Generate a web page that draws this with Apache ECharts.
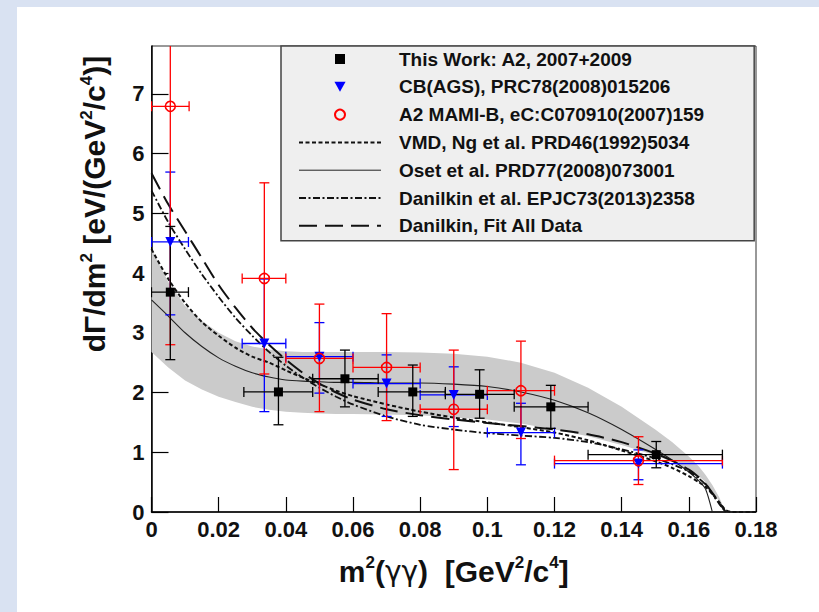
<!DOCTYPE html>
<html>
<head>
<meta charset="utf-8">
<script src="https://cdn.jsdelivr.net/npm/echarts@6/dist/echarts.min.js"></script>
<style>
  html, body { margin: 0; padding: 0; background: #d9e2f2; }
  #panel { position: absolute; left: 17px; top: 7px; width: 802px; height: 605px; background: #ffffff; }
  #chartDiv { position: absolute; left: 0; top: 0; width: 819px; height: 612px; }
</style>
</head>
<body>
<div id="panel"></div>
<div id="chartDiv"></div>
<script>
// ---- data ----
var thisX   = [0.0056, 0.0378, 0.0576, 0.0778, 0.0977, 0.1189, 0.1503];
var thisY   = [3.68, 2.01, 2.23, 2.01, 1.97, 1.76, 0.96];
var thisXLo = [0, 0.0275, 0.048, 0.0675, 0.0875, 0.108, 0.13];
var thisXHi = [0.011, 0.048, 0.0675, 0.0875, 0.108, 0.13, 0.17];
var thisYLo = [2.55, 1.46, 1.76, 1.6, 1.57, 1.4, 0.74];
var thisYHi = [4.78, 2.59, 2.71, 2.46, 2.38, 2.12, 1.18];

var cbX   = [0.0056, 0.0336, 0.05, 0.07, 0.09, 0.11, 0.145];
var cbY   = [4.52, 2.82, 2.6, 2.15, 1.96, 1.33, 0.81];
var cbXLo = [0, 0.027, 0.04, 0.06, 0.08, 0.1, 0.12];
var cbXHi = [0.011, 0.04, 0.06, 0.08, 0.1, 0.12, 0.17];
var cbYLo = [3.3, 1.68, 1.99, 1.6, 1.43, 0.79, 0.54];
var cbYHi = [5.69, 3.9, 3.17, 2.63, 2.43, 1.82, 1.04];

var mamiX   = [0.0056, 0.0336, 0.05, 0.07, 0.09, 0.11, 0.145];
var mamiY   = [6.79, 3.91, 2.57, 2.42, 1.72, 2.03, 0.86];
var mamiXLo = [0, 0.027, 0.04, 0.06, 0.08, 0.1, 0.12];
var mamiXHi = [0.0112, 0.04, 0.06, 0.08, 0.1, 0.12, 0.17];
var mamiYLo = [2.8, 2.31, 1.68, 1.53, 0.71, 1.23, 0.46];
var mamiYHi = [8.6, 5.51, 3.48, 3.32, 2.71, 2.86, 1.26];

var curveX  = [0, 0.005, 0.01, 0.015, 0.02, 0.025, 0.03, 0.035, 0.04, 0.045, 0.05, 0.055, 0.06, 0.07, 0.08, 0.09, 0.1, 0.11, 0.12, 0.13, 0.14, 0.15, 0.155, 0.16, 0.163, 0.165, 0.167, 0.169, 0.171, 0.173, 0.18];
var yVMD    = [4.4, 3.9, 3.5, 3.18, 2.95, 2.75, 2.6, 2.5, 2.37, 2.25, 2.14, 2.03, 1.94, 1.8, 1.68, 1.58, 1.5, 1.42, 1.33, 1.2, 1.03, 0.85, 0.74, 0.6, 0.5, 0.42, 0.3, 0.17, 0.03, 0, 0];
var yOset   = [3.55, 3.28, 3.0, 2.77, 2.58, 2.44, 2.33, 2.26, 2.21, 2.19, 2.18, 2.17, 2.17, 2.16, 2.16, 2.14, 2.1, 2.01, 1.87, 1.66, 1.38, 1.05, 0.87, 0.67, 0.52, 0.38, 0, null, null, null, null];
var yDan    = [5.38, 4.85, 4.4, 3.98, 3.6, 3.25, 2.95, 2.68, 2.45, 2.25, 2.08, 1.93, 1.8, 1.6, 1.46, 1.38, 1.32, 1.28, 1.24, 1.17, 1.05, 0.9, 0.8, 0.68, 0.56, 0.46, 0.3, 0.14, 0, null, null];
var yFit    = [5.67, 5.15, 4.7, 4.25, 3.8, 3.42, 3.08, 2.8, 2.55, 2.33, 2.15, 2.0, 1.88, 1.72, 1.62, 1.55, 1.49, 1.44, 1.38, 1.3, 1.17, 0.98, 0.86, 0.71, 0.58, 0.47, 0.32, 0.16, 0, null, null];
var bandHi  = [4.4, 3.85, 3.45, 3.2, 3.0, 2.86, 2.77, 2.72, 2.69, 2.68, 2.68, 2.68, 2.68, 2.68, 2.67, 2.65, 2.6, 2.5, 2.33, 2.08, 1.76, 1.38, 1.17, 0.93, 0.76, 0.62, 0.45, 0.25, 0, null, null];
var bandLo  = [2.68, 2.42, 2.2, 2.05, 1.93, 1.84, 1.76, 1.71, 1.68, 1.66, 1.65, 1.64, 1.64, 1.63, 1.62, 1.58, 1.55, 1.48, 1.38, 1.27, 1.12, 0.95, 0.84, 0.7, 0.6, 0.5, 0.35, 0.18, 0, null, null];

var names = [
    'This Work: A2, 2007+2009',
    'CB(AGS), PRC78(2008)015206',
    'A2 MAMI-B, eC:C070910(2007)159',
    'VMD, Ng et al. PRD46(1992)5034',
    'Oset et al. PRD77(2008)073001',
    'Danilkin et al. EPJC73(2013)2358',
    'Danilkin, Fit All Data'
];

var FONT = 'Liberation Sans, Arial, sans-serif';

var myChart = echarts.init(document.getElementById('chartDiv'), null, {renderer: 'svg'});

var pairs = function(xs, ys){
    var out = [];
    for (var i = 0; i < xs.length; i++) {
        if (ys[i] != null) out.push([xs[i], ys[i]]);
    }
    return out;
};

var errRows = function(x, y, xlo, xhi, ylo, yhi){
    return x.map(function(v, i){ return [v, y[i], xlo[i], xhi[i], ylo[i], yhi[i]]; });
};

var errRender = function(color){
    return function(params, api){
        var x = api.value(0), y = api.value(1);
        var p = api.coord([x, y]);
        var xl = api.coord([api.value(2), y])[0];
        var xh = api.coord([api.value(3), y])[0];
        var yl = api.coord([x, api.value(4)])[1];
        var yh = api.coord([x, api.value(5)])[1];
        var st = {stroke: color, lineWidth: 1.3};
        var c = 5;
        return {
            type: 'group',
            children: [
                {type: 'line', shape: {x1: xl, y1: p[1], x2: xh, y2: p[1]}, style: st},
                {type: 'line', shape: {x1: p[0], y1: yl, x2: p[0], y2: yh}, style: st},
                {type: 'line', shape: {x1: xl, y1: p[1] - c, x2: xl, y2: p[1] + c}, style: st},
                {type: 'line', shape: {x1: xh, y1: p[1] - c, x2: xh, y2: p[1] + c}, style: st},
                {type: 'line', shape: {x1: p[0] - c, y1: yl, x2: p[0] + c, y2: yl}, style: st},
                {type: 'line', shape: {x1: p[0] - c, y1: yh, x2: p[0] + c, y2: yh}, style: st}
            ]
        };
    };
};

var bandRender = function(params, api){
    var pts = [];
    for (var i = 0; i < curveX.length; i++) {
        if (bandHi[i] != null) pts.push(api.coord([curveX[i], bandHi[i]]));
    }
    for (var j = curveX.length - 1; j >= 0; j--) {
        if (bandLo[j] != null) pts.push(api.coord([curveX[j], bandLo[j]]));
    }
    return {type: 'polygon', shape: {points: pts}, style: {fill: '#cbcbcb'}};
};

var boldRich = {
    a: {fontSize: 30, fontWeight: 'bold', fontFamily: FONT, color: '#111', lineHeight: 34},
    g: {fontSize: 28, fontFamily: 'DejaVu Sans', color: '#111', lineHeight: 34},
    s: {fontSize: 17, fontWeight: 'bold', fontFamily: FONT, color: '#111', verticalAlign: 'top', lineHeight: 20}
};

var getOption = function(){
    var option = {
        animation: false,
        backgroundColor: 'transparent',
        grid: {
            show: true,
            left: 151.5,
            right: 63,
            top: 46,
            bottom: 100,
            borderColor: '#333',
            borderWidth: 1,
            backgroundColor: '#ffffff'
        },
        legend: {
            orient: 'vertical',
            left: 281,
            top: 46,
            padding: [3, 50, 5, 17],
            itemWidth: 82,
            itemHeight: 10,
            itemGap: 7.8,
            symbolKeepAspect: true,
            backgroundColor: '#efefef',
            borderColor: '#444',
            borderWidth: 1.5,
            selectedMode: false,
            textStyle: {fontSize: 19, fontWeight: 'bold', color: '#111', fontFamily: FONT, lineHeight: 20, padding: [0, 0, 0, 13]},
            data: [
                {name: names[0], icon: 'path://M0,0L9,0L9,9L0,9Z'},
                {name: names[1], icon: 'path://M0,0L10,0L5,9Z'},
                {name: names[2]},
                {name: names[3], itemStyle: {opacity: 0}},
                {name: names[4], itemStyle: {opacity: 0}, lineStyle: {width: 1}},
                {name: names[5], itemStyle: {opacity: 0}},
                {name: names[6], itemStyle: {opacity: 0}}
            ]
        },
        xAxis: {
            type: 'value',
            min: 0,
            max: 0.18,
            interval: 0.02,
            name: '{a|m}{s|2}{a|(}{g|γγ}{a|)  [GeV}{s|2}{a|/c}{s|4}{a|]}',
            nameLocation: 'middle',
            nameGap: 42,
            nameTextStyle: {rich: boldRich},
            axisLine: {lineStyle: {color: '#000', width: 1.5}},
            axisTick: {inside: true, length: 15, lineStyle: {color: '#000', width: 1.2}},
            axisLabel: {fontSize: 22, fontWeight: 'bold', color: '#111', fontFamily: FONT, margin: 6},
            splitLine: {show: false}
        },
        yAxis: {
            type: 'value',
            min: 0,
            max: 7.8,
            interval: 1,
            name: '{a|dΓ/dm}{s|2}{a| [eV/(GeV}{s|2}{a|/c}{s|4}{a|)]}',
            nameLocation: 'middle',
            nameGap: 40,
            nameTextStyle: {rich: boldRich, padding: [0, 0, 0, 150]},
            axisLine: {lineStyle: {color: '#000', width: 1.5}},
            axisTick: {inside: true, length: 17, lineStyle: {color: '#000', width: 1.2}},
            axisLabel: {fontSize: 22, fontWeight: 'bold', color: '#111', fontFamily: FONT, margin: 7, showMaxLabel: false},
            splitLine: {show: false}
        },
        series: [
            {
                name: 'band', type: 'custom', silent: true, z: 1, clip: true,
                data: [[0, 0]],
                renderItem: bandRender
            },
            {
                name: names[3], type: 'line', z: 2, symbol: 'none', smooth: 0.25, silent: true,
                data: pairs(curveX, yVMD),
                itemStyle: {color: '#111'},
                lineStyle: {color: '#111', width: 2, type: [4, 2.5]}
            },
            {
                name: names[4], type: 'line', z: 2, symbol: 'none', smooth: 0.25, silent: true,
                data: pairs(curveX, yOset),
                itemStyle: {color: '#222'},
                lineStyle: {color: '#222', width: 1.1}
            },
            {
                name: names[5], type: 'line', z: 2, symbol: 'none', smooth: 0.25, silent: true,
                data: pairs(curveX, yDan),
                itemStyle: {color: '#111'},
                lineStyle: {color: '#111', width: 1.8, type: [7, 2.5, 2, 2.5]}
            },
            {
                name: names[6], type: 'line', z: 2, symbol: 'none', smooth: 0.25, silent: true,
                data: pairs(curveX, yFit),
                itemStyle: {color: '#111'},
                lineStyle: {color: '#111', width: 2, type: [18, 8]}
            },
            {
                name: 'cbErr', type: 'custom', z: 3, clip: true, silent: true,
                data: errRows(cbX, cbY, cbXLo, cbXHi, cbYLo, cbYHi),
                encode: {x: 0, y: 1},
                renderItem: errRender('#0000ff')
            },
            {
                name: 'mamiErr', type: 'custom', z: 3, clip: true, silent: true,
                data: errRows(mamiX, mamiY, mamiXLo, mamiXHi, mamiYLo, mamiYHi),
                encode: {x: 0, y: 1},
                renderItem: errRender('#ff0000')
            },
            {
                name: 'thisErr', type: 'custom', z: 3, clip: true, silent: true,
                data: errRows(thisX, thisY, thisXLo, thisXHi, thisYLo, thisYHi),
                encode: {x: 0, y: 1},
                renderItem: errRender('#000000')
            },
            {
                name: names[1], type: 'scatter', z: 4, symbol: 'triangle', symbolRotate: 180, symbolSize: 10,
                data: pairs(cbX, cbY),
                itemStyle: {color: '#0000ff', opacity: 1}
            },
            {
                name: names[2], type: 'scatter', z: 4, symbol: 'circle', symbolSize: 10,
                data: pairs(mamiX, mamiY),
                itemStyle: {color: 'rgba(255,255,255,0)', borderColor: '#ff0000', borderWidth: 1.6, opacity: 1}
            },
            {
                name: names[0], type: 'scatter', z: 5, symbol: 'rect', symbolSize: 9,
                data: pairs(thisX, thisY),
                itemStyle: {color: '#000000', opacity: 1}
            }
        ]
    };
    return option;
};

myChart.setOption(getOption());
</script>
</body>
</html>
